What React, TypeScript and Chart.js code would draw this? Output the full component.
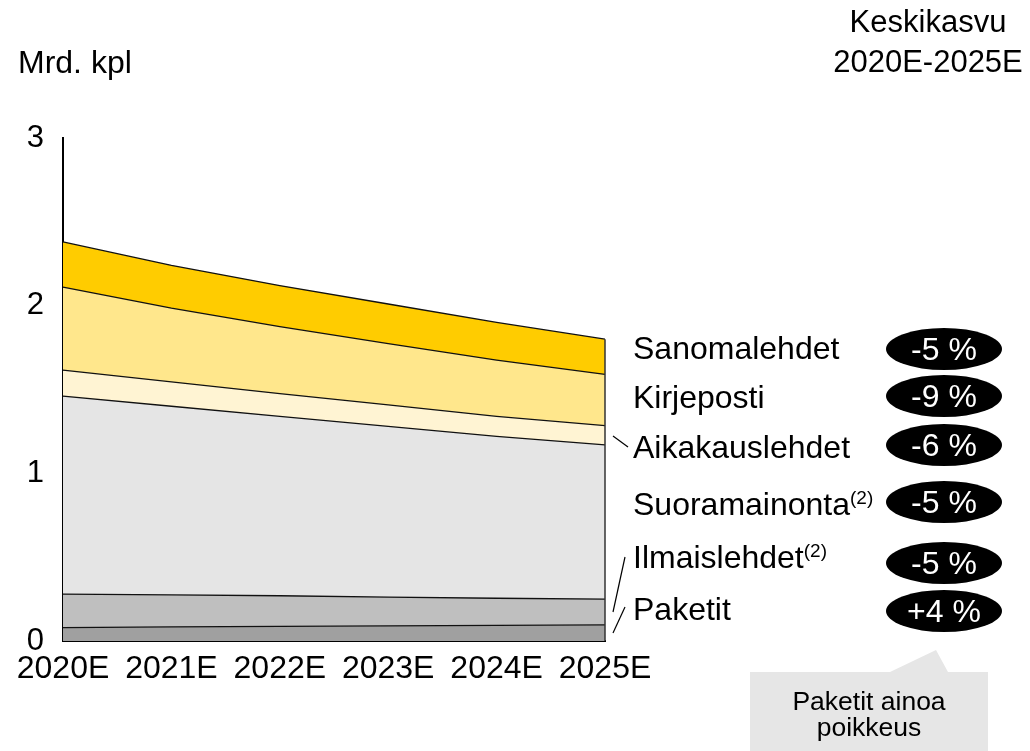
import React, { useEffect, useRef } from "react";
import { Chart, registerables } from "chart.js";

Chart.register(...registerables);

const years = ["2020E", "2021E", "2022E", "2023E", "2024E", "2025E"];
const paketit = [0.08, 0.084, 0.087, 0.09, 0.093, 0.096];
const ilmaislehdet = [0.2, 0.191, 0.183, 0.172, 0.162, 0.154];
const suoramainonta = [1.18, 1.125, 1.07, 1.018, 0.965, 0.92];
const aikakauslehdet = [0.155, 0.145, 0.135, 0.128, 0.12, 0.114];
const kirjeposti = [0.495, 0.44, 0.4, 0.365, 0.335, 0.306];
const sanomalehdet = [0.27, 0.255, 0.245, 0.237, 0.225, 0.21];
const yTicks = [0, 1, 2, 3];

const seriesNames = ["Paketit", "Ilmaislehdet", "Suoramainonta", "Aikakauslehdet", "Kirjeposti", "Sanomalehdet"];
const seriesValues = [paketit, ilmaislehdet, suoramainonta, aikakauslehdet, kirjeposti, sanomalehdet];
const seriesColors = ["#a0a0a0", "#bfbfbf", "#e5e5e5", "#fff4d3", "#ffe78c", "#ffcc00"];

// right-hand labels, top to bottom
const labelNames = ["Sanomalehdet", "Kirjeposti", "Aikakauslehdet", "Suoramainonta", "Ilmaislehdet", "Paketit"];
const labelNotes = ["", "", "", "(2)", "(2)", ""];
const growthRates = ["-5 %", "-9 %", "-6 %", "-5 %", "-5 %", "+4 %"];
const labelY = [348, 397, 447, 504, 557, 609];
const pillY = [349, 396, 445, 502, 563, 611];

const FONT = "'Liberation Sans', Arial, Helvetica, sans-serif";

const edgePlugin = {
  id: "edge",
  afterDatasetsDraw(chart: any) {
    const xs = chart.scales.x;
    const ys = chart.scales.y;
    const last = years.length - 1;
    let total = 0;
    seriesValues.forEach((s) => (total += s[last]));
    const x = xs.getPixelForValue(last);
    const ctx = chart.ctx;
    ctx.save();
    ctx.strokeStyle = "#333";
    ctx.lineWidth = 1.5;
    ctx.beginPath();
    ctx.moveTo(x, ys.getPixelForValue(total));
    ctx.lineTo(x, ys.getPixelForValue(0));
    ctx.stroke();
    ctx.restore();
  },
};

export default function App() {
  const ref = useRef<HTMLCanvasElement | null>(null);

  useEffect(() => {
    if (!ref.current) return;
    const chart = new Chart(ref.current, {
      type: "line",
      data: {
        labels: years,
        datasets: seriesValues.map((vals, i) => ({
          label: seriesNames[i],
          data: vals,
          backgroundColor: seriesColors[i],
          borderColor: "#111",
          borderWidth: 1.3,
          pointRadius: 0,
          tension: 0,
          fill: i === 0 ? "origin" : "-1",
        })),
      },
      options: {
        responsive: false,
        animation: false,
        devicePixelRatio: 1,
        layout: { padding: { left: 0, right: 425, top: 138, bottom: 50 } },
        plugins: { legend: { display: false }, tooltip: { enabled: false } },
        scales: {
          x: {
            type: "category",
            offset: false,
            grid: { display: false, drawTicks: false },
            border: { display: true, color: "#000", width: 2 },
            ticks: { color: "#000", font: { family: FONT, size: 32 }, padding: 9, maxRotation: 0, autoSkip: false },
            afterFit: (s: any) => {
              s.height = 60;
            },
          },
          y: {
            stacked: true,
            min: 0,
            max: 3,
            grid: { display: false, drawTicks: false },
            border: { display: true, color: "#000", width: 2 },
            afterBuildTicks: (s: any) => {
              s.ticks = yTicks.map((v) => ({ value: v }));
            },
            ticks: { color: "#000", font: { family: FONT, size: 31 }, padding: 19 },
            afterFit: (s: any) => {
              s.width = 63;
            },
          },
        },
      },
      plugins: [edgePlugin],
    });
    return () => chart.destroy();
  }, []);

  const text: React.CSSProperties = {
    position: "absolute",
    fontFamily: FONT,
    fontSize: 32,
    lineHeight: "32px",
    color: "#000",
    whiteSpace: "nowrap",
  };

  return (
    <div style={{ position: "absolute", left: 0, top: 0, width: 1030, height: 751, background: "#fff", overflow: "hidden" }}>
      <canvas ref={ref} width={1030} height={751} style={{ position: "absolute", left: 0, top: 0 }} />
      <div style={{ ...text, left: 18, top: 62 - 16 }}>Mrd. kpl</div>
      <div style={{ ...text, fontSize: 31, left: 828, width: 200, textAlign: "center", top: 22 - 16 }}>Keskikasvu</div>
      <div style={{ ...text, fontSize: 31, left: 828, width: 200, textAlign: "center", top: 62 - 16 }}>2020E-2025E</div>
      {labelNames.map((n, i) => (
        <div key={n} style={{ ...text, left: 633, top: labelY[i] - 16 }}>
          {n}
          {labelNotes[i] ? (
            <sup style={{ fontSize: 19, verticalAlign: "top", lineHeight: "19px", position: "relative", top: 0 }}>{labelNotes[i]}</sup>
          ) : null}
        </div>
      ))}
      {growthRates.map((g, i) => (
        <div
          key={i}
          style={{
            ...text,
            left: 886,
            top: pillY[i] - 21,
            width: 116,
            height: 42,
            lineHeight: "42px",
            borderRadius: "50%",
            background: "#000",
            color: "#fff",
            textAlign: "center",
          }}
        >
          {g}
        </div>
      ))}
      <svg width={1030} height={751} style={{ position: "absolute", left: 0, top: 0, pointerEvents: "none" }}>
        <line x1={613} y1={436} x2={628} y2={447} stroke="#000" strokeWidth={1.2} />
        <line x1={625} y1={557} x2={613} y2={612} stroke="#000" strokeWidth={1.2} />
        <line x1={625} y1={607} x2={613} y2={633} stroke="#000" strokeWidth={1.2} />
        <polygon points="750,672 890,672 936,650 948,672 988,672 988,751 750,751" fill="#e6e6e6" />
      </svg>
      <div style={{ ...text, fontSize: 26.5, lineHeight: "26px", left: 750, width: 238, textAlign: "center", top: 688 }}>
        Paketit ainoa
        <br />
        poikkeus
      </div>
    </div>
  );
}
